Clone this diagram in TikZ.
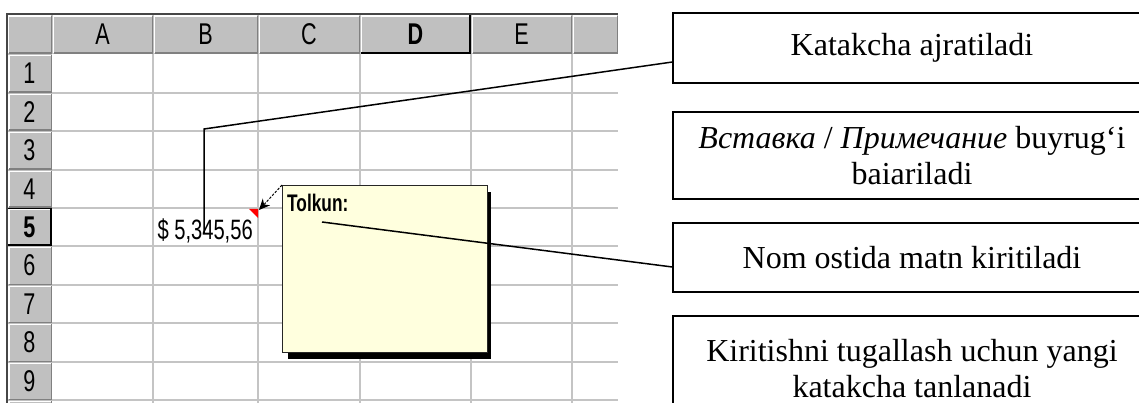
\documentclass[tikz,border=0pt]{standalone}
\usepackage{fontspec}
\setmainfont{Liberation Serif}
\newfontfamily\xlfont[FakeStretch=0.72]{Liberation Sans}
\usetikzlibrary{arrows.meta,calc}
\definecolor{hgray}{RGB}{192,192,192}
\definecolor{dgray}{RGB}{128,128,128}
\definecolor{gridc}{RGB}{196,196,196}
\definecolor{notey}{RGB}{255,255,222}
\definecolor{frame}{RGB}{70,70,70}
\begin{document}
\begin{tikzpicture}[x=1pt,y=-1pt,
  gridl/.style={draw=gridc, line width=1.4pt},
  hdr/.style={font=\xlfont\fontsize{30}{30}\selectfont, inner sep=0pt},
  hdrb/.style={font=\xlfont\bfseries\fontsize{30}{30}\selectfont, inner sep=0pt},
  cellt/.style={font=\xlfont\fontsize{28}{28}\selectfont, inner sep=0pt},
  callout/.style={draw=black, line width=1.3pt, minimum width=478pt, align=center,
                  font=\fontsize{32}{36}\selectfont, inner sep=0pt},
  leader/.style={black, line width=1.5pt},
  hilite/.style={white, line width=1.5pt},
  lolite/.style={dgray, line width=1.5pt},
  active/.style={black, line width=1.8pt},
]
\fill[white] (0,0) rectangle (1139,403);
\useasboundingbox (0,0) rectangle (1139,403);

% cell grid
\foreach \x in {153,258,360,471,572} \draw[gridl] (\x,54) -- (\x,403);
\foreach \y in {93,131,170,208,246,285,323,362,400} \draw[gridl] (52,\y) -- (618,\y);

% header fills
\fill[hgray] (7,14) rectangle (618,54);
\fill[hgray] (7,54) rectangle (52,403);

% column header bevels
\foreach \a/\b in {7/52,52/153,153/258,258/360,360/471,471/572,572/618} {
  \draw[hilite] (\a+1.5,53) -- (\a+1.5,16) -- (\b-1,16);
  \draw[lolite] (\b-0.75,16) -- (\b-0.75,53.25) -- (\a+1.5,53.25);
}
% row header bevels
\foreach \a/\b in {54/93,93/131,131/170,170/208,208/246,246/285,285/323,323/362,362/400,400/438} {
  \draw[hilite] (9,\b-1) -- (9,\a+1.5) -- (50.5,\a+1.5);
  \draw[lolite] (51.25,\a+1) -- (51.25,\b-0.75) -- (9,\b-0.75);
}
% active headers
\draw[active] (470,15) -- (470,53.1) -- (361,53.1);
\draw[active] (8,208.5) -- (51.1,208.5) -- (51.1,245.2) -- (8,245.2);

% outer frame
\draw[frame, line width=2pt] (7,403) -- (7,14) -- (618,14);

% header labels
\node[hdr] (hA) at (102.5,34) {A};
\node[hdr] (hB) at (205.5,34) {B};
\node[hdr] (hC) at (309,34) {C};
\node[hdrb] (hD) at (415.5,34) {D};
\node[hdr] (hE) at (521.5,34) {E};
\node[hdr] (r1) at (29.5,73.5) {1};
\node[hdr] (r2) at (29.5,112) {2};
\node[hdr] (r3) at (29.5,150.5) {3};
\node[hdr] (r4) at (29.5,189) {4};
\node[hdrb] (r5) at (29.5,227) {5};
\node[hdr] (r6) at (29.5,265.5) {6};
\node[hdr] (r7) at (29.5,304) {7};
\node[hdr] (r8) at (29.5,342.5) {8};
\node[hdr] (r9) at (29.5,381) {9};

% cell value
\node[cellt, anchor=base east] (val) at (253,240) {\$ 5,345,56};

% red comment indicator
\fill[red] (249,209) -- (258,209) -- (258,218) -- cycle;
\coordinate (tip) at (259,210);

% comment note
\fill[black] (288,192) rectangle (491,359);
\node[draw=black!85, line width=1pt, fill=notey, minimum width=205pt, minimum height=167pt,
      inner sep=0pt, anchor=north west] (note) at (282,185) {};
\node[font=\xlfont\bfseries\fontsize{24}{24}\selectfont, inner sep=0pt, anchor=base west]
      (tolkun) at (287,212) {Tolkun:};
\draw[black, line width=1pt, dash pattern=on 2.5pt off 1.5pt,
      -{Stealth[length=11pt,width=10pt]}] (note.north west) -- (tip);

% callout boxes
\node[callout, minimum height=70pt] (b1) at (912,48) {Katakcha ajratiladi};
\node[callout, minimum height=87pt] (b2) at (912,155.5)
  {\textit{Вставка} / \textit{Примечание} buyrug‘i\\baiariladi};
\node[callout, minimum height=69pt] (b3) at (912,257.5) {Nom ostida matn kiritiladi};
\node[callout, minimum height=106pt] (b4) at (912,369)
  {Kiritishni tugallash uchun yangi\\katakcha tanlanadi};

% leaders
\coordinate (k1) at (204,129);
\coordinate (k1e) at (204,233);
\draw[leader] ([yshift=-14pt]b1.west) -- (k1) -- (k1e);
\coordinate (k3) at (322,222);
\draw[leader] (k3) -- ([yshift=-9.5pt]b3.west);
\end{tikzpicture}
\end{document}
